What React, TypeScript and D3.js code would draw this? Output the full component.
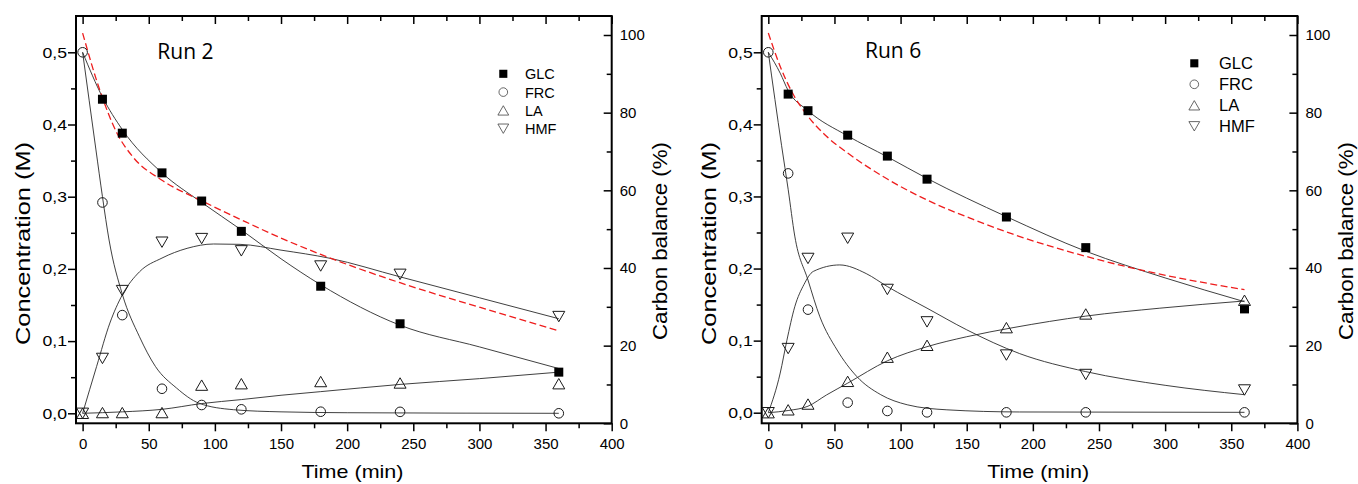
import React, { useRef, useEffect, useCallback } from 'react';
import * as d3 from 'd3';

// sampling times (min)
const sampleTimes = [0, 15, 30, 60, 90, 120, 180, 240, 360];

// Run 2 measured concentrations (M)
const run2GLC = [null, 0.435, 0.388, 0.333, 0.294, 0.252, 0.176, 0.124, 0.057];
const run2FRC = [0.5, 0.292, 0.136, 0.034, 0.0115, 0.0055, 0.0022, 0.002, 0.0];
const run2LA = [0, 0.001, 0.001, 0.001, 0.039, 0.041, 0.044, 0.042, 0.041];
const run2HMF = [0, 0.076, 0.17, 0.237, 0.242, 0.225, 0.204, 0.1925, 0.134];

// Run 6 measured concentrations (M)
const run6GLC = [null, 0.442, 0.419, 0.385, 0.356, 0.324, 0.2715, 0.229, 0.144];
const run6FRC = [0.5, 0.332, 0.143, 0.014, 0.0024, 0.0005, 0.0005, 0.0005, 0.0005];
const run6LA = [0, 0.004, 0.012, 0.0435, 0.077, 0.0935, 0.118, 0.137, 0.156];
const run6HMF = [0, 0.089, 0.214, 0.242, 0.171, 0.126, 0.08, 0.053, 0.0315];

// model curves, [time, conc]
const run2FitGLC = [[0, 0.5], [15, 0.438], [30, 0.393], [60, 0.333], [90, 0.292], [120, 0.254], [150, 0.214], [180, 0.178], [240, 0.122], [300, 0.092], [360, 0.062]];
const run2FitFRC = [[0, 0.5], [10, 0.366], [15, 0.3], [20, 0.24], [30, 0.165], [43, 0.106], [55, 0.065], [71, 0.035], [88, 0.014], [114, 0.005], [150, 0.002], [200, 0.0008], [360, 0]];
const run2FitLA = [[0, 0], [30, 0.002], [60, 0.0055], [90, 0.0135], [120, 0.019], [150, 0.025], [180, 0.03], [240, 0.04], [300, 0.048], [360, 0.057]];
const run2FitHMF = [[0, 0], [10.6, 0.065], [20.6, 0.125], [30, 0.164], [43, 0.196], [60, 0.215], [79, 0.2285], [99, 0.2345], [119, 0.234], [150, 0.226], [187, 0.2147], [240, 0.189], [300, 0.16], [360, 0.131]];

const run6FitGLC = [[0, 0.5], [9, 0.471], [15, 0.447], [30, 0.419], [60, 0.384], [90, 0.355], [120, 0.325], [180, 0.272], [240, 0.224], [300, 0.187], [360, 0.154]];
const run6FitFRC = [[0, 0.5], [10, 0.371], [15, 0.31], [20, 0.245], [30, 0.184], [39, 0.133], [52, 0.087], [67, 0.05], [85, 0.025], [105, 0.011], [135, 0.004], [190, 0.001], [360, 0.0005]];
const run6FitLA = [[0, 0], [15, 0.003], [30, 0.009], [44, 0.0246], [60, 0.041], [90, 0.072], [120, 0.0916], [150, 0.1054], [185, 0.118], [240, 0.134], [296, 0.145], [360, 0.155]];
const run6FitHMF = [[0, 0], [9, 0.055], [14, 0.1], [20, 0.147], [27, 0.178], [34, 0.196], [54, 0.205], [74, 0.193], [90, 0.175], [120, 0.145], [150, 0.115], [190, 0.082], [240, 0.057], [300, 0.038], [360, 0.025]];

// carbon balance (%), [time, %]
const run2Balance = [[0, 100.5], [13, 85.8], [26, 74.7], [38, 68.6], [60, 62.6], [90, 57.3], [120, 52.4], [150, 47.7], [180, 43.5], [240, 36.2], [300, 29.9], [360, 23.8]];
const run6Balance = [[0, 100.5], [9, 91.9], [19, 84.6], [29, 79.5], [44, 73.9], [60, 69.6], [90, 62.9], [120, 57.5], [155, 52.5], [185, 48.7], [240, 43], [284, 39.3], [360, 34.4]];

// axes
const timeTicks = [0, 50, 100, 150, 200, 250, 300, 350, 400];
const timeMinorTicks = [25, 75, 125, 175, 225, 275, 325, 375];
const concTicks = [0, 0.1, 0.2, 0.3, 0.4, 0.5];
const concMinorTicks = [0.05, 0.15, 0.25, 0.35, 0.45];
const balanceTicks = [0, 20, 40, 60, 80, 100];
const balanceMinorTicks = [10, 30, 50, 70, 90];

const species = ['GLC', 'FRC', 'LA', 'HMF'];

const FONT = '"Liberation Sans", Arial, sans-serif';
const FRAME_TOP = 16;
const FRAME_BOTTOM = 423.3;
const FRAME_WIDTH = 535.7;

const panels = [
  {
    title: 'Run 2', left: 76, titleX: 81.3, titleY: 59.3, zeroY: 413.3,
    points: { GLC: run2GLC, FRC: run2FRC, LA: run2LA, HMF: run2HMF },
    fits: [run2FitGLC, run2FitFRC, run2FitLA, run2FitHMF],
    balance: run2Balance,
    legend: { markerX: 427.3, textX: 449, baseY: 79.3, step: 18.3, font: 14.5, lift: 5.5 },
  },
  {
    title: 'Run 6', left: 761.7, titleX: 103.3, titleY: 58.3, zeroY: 412.7,
    points: { GLC: run6GLC, FRC: run6FRC, LA: run6LA, HMF: run6HMF },
    fits: [run6FitGLC, run6FitFRC, run6FitLA, run6FitHMF],
    balance: run6Balance,
    legend: { markerX: 432.6, textX: 457.3, baseY: 69.3, step: 21, font: 16.5, lift: 6 },
  },
];

const markerPath = (name) => {
  if (name === 'GLC') return d3.symbol(d3.symbolSquare, 81)();
  if (name === 'FRC') return d3.symbol(d3.symbolCircle, Math.PI * 4.8 * 4.8)();
  const w = 6, h = 5.2;
  if (name === 'LA') return `M0,${-h}L${w},${h}L${-w},${h}Z`;
  return `M0,${h}L${w},${-h}L${-w},${-h}Z`;
};

const App = () => {
  const svgRef = useRef(null);

  const styleAxis = useCallback((g, size) => {
    g.select('.domain').remove();
    g.selectAll('line').attr('stroke', '#000').attr('stroke-width', 1.5);
    g.selectAll('text').attr('font-family', FONT).attr('font-size', size).attr('fill', '#000');
  }, []);

  const drawPanel = useCallback((svg, p) => {
    const right = p.left + FRAME_WIDTH;
    const x = d3.scaleLinear().domain([-5, 400]).range([p.left, right]);
    const y = d3.scaleLinear().domain([0, 0.5]).range([p.zeroY, 52.3]);
    const yBal = d3.scaleLinear().domain([0, 100]).range([FRAME_BOTTOM, 35]);
    const g = svg.append('g');

    // model curves
    const fitLine = d3.line().x(d => x(d[0])).y(d => y(d[1])).curve(d3.curveMonotoneX);
    p.fits.forEach(f => {
      g.append('path').attr('d', fitLine(f)).attr('fill', 'none')
        .attr('stroke', '#2a2a2a').attr('stroke-width', 0.9);
    });

    // carbon balance
    const balLine = d3.line().x(d => x(d[0])).y(d => yBal(d[1])).curve(d3.curveMonotoneX);
    g.append('path').attr('d', balLine(p.balance)).attr('fill', 'none')
      .attr('stroke', '#ee1d1d').attr('stroke-width', 1.3).attr('stroke-dasharray', '7,3.5');

    // measured points
    species.forEach(s => {
      const pts = sampleTimes.map((t, i) => [t, p.points[s][i]]).filter(d => d[1] !== null);
      g.selectAll(`.pt-${s}`).data(pts).enter().append('path')
        .attr('transform', d => `translate(${x(d[0])},${y(d[1])})`)
        .attr('d', markerPath(s))
        .attr('fill', s === 'GLC' ? '#000' : 'none')
        .attr('stroke', '#1a1a1a').attr('stroke-width', s === 'GLC' ? 0 : 1);
    });

    // frame
    g.append('rect').attr('x', p.left).attr('y', FRAME_TOP)
      .attr('width', FRAME_WIDTH).attr('height', FRAME_BOTTOM - FRAME_TOP)
      .attr('fill', 'none').attr('stroke', '#000').attr('stroke-width', 2);

    // bottom axis
    g.append('g').attr('transform', `translate(0,${FRAME_BOTTOM})`)
      .call(d3.axisBottom(x).tickValues(timeTicks).tickSize(8).tickPadding(7))
      .call(a => styleAxis(a, 15));
    g.append('g').attr('transform', `translate(0,${FRAME_BOTTOM})`)
      .call(d3.axisBottom(x).tickValues(timeMinorTicks).tickSize(5).tickFormat(() => ''))
      .call(a => styleAxis(a, 15));
    // top axis (ticks inward)
    g.append('g').attr('transform', `translate(0,${FRAME_TOP})`)
      .call(d3.axisBottom(x).tickValues(timeTicks).tickSize(8).tickFormat(() => ''))
      .call(a => styleAxis(a, 15));
    g.append('g').attr('transform', `translate(0,${FRAME_TOP})`)
      .call(d3.axisBottom(x).tickValues(timeMinorTicks).tickSize(5).tickFormat(() => ''))
      .call(a => styleAxis(a, 15));
    // left axis
    g.append('g').attr('transform', `translate(${p.left},0)`)
      .call(d3.axisLeft(y).tickValues(concTicks).tickSize(8).tickPadding(1)
        .tickFormat(d => d3.format('.1f')(d).replace('.', ',')))
      .call(a => styleAxis(a, 15))
      .call(a => a.selectAll('text').attr('textLength', 24.5).attr('lengthAdjust', 'spacingAndGlyphs'));
    g.append('g').attr('transform', `translate(${p.left},0)`)
      .call(d3.axisLeft(y).tickValues(concMinorTicks).tickSize(5).tickFormat(() => ''))
      .call(a => styleAxis(a, 15));
    // right axis (ticks inward)
    g.append('g').attr('transform', `translate(${right},0)`)
      .call(d3.axisRight(yBal).tickValues(balanceTicks).tickSize(-8).tickPadding(8))
      .call(a => styleAxis(a, 15));
    g.append('g').attr('transform', `translate(${right},0)`)
      .call(d3.axisRight(yBal).tickValues(balanceMinorTicks).tickSize(-5).tickFormat(() => ''))
      .call(a => styleAxis(a, 15));

    // axis titles
    g.append('text').attr('x', p.left + 276.5).attr('y', 477.5)
      .attr('text-anchor', 'middle').attr('font-family', FONT).attr('font-size', 18.5)
      .attr('textLength', 102).attr('lengthAdjust', 'spacingAndGlyphs')
      .text('Time (min)');
    g.append('text').attr('transform', `translate(${p.left - 53},243.5) rotate(-90)`)
      .attr('dy', '0.35em').attr('text-anchor', 'middle').attr('font-family', FONT).attr('font-size', 20)
      .attr('textLength', 203).attr('lengthAdjust', 'spacingAndGlyphs')
      .text('Concentration (M)');
    g.append('text').attr('transform', `translate(${right + 48.5},241) rotate(-90)`)
      .attr('dy', '0.35em').attr('text-anchor', 'middle').attr('font-family', FONT).attr('font-size', 19.5)
      .attr('textLength', 198).attr('lengthAdjust', 'spacingAndGlyphs')
      .text('Carbon balance (%)');

    // run label
    g.append('text').attr('x', p.left + p.titleX).attr('y', p.titleY)
      .attr('font-family', '"Open Sans", sans-serif').attr('font-size', 21)
      .text(p.title);

    // legend
    const lg = p.legend;
    species.forEach((s, i) => {
      const by = lg.baseY + i * lg.step;
      g.append('path').attr('transform', `translate(${p.left + lg.markerX},${by - lg.lift}) scale(0.9)`)
        .attr('d', markerPath(s))
        .attr('fill', s === 'GLC' ? '#000' : 'none')
        .attr('stroke', '#444').attr('stroke-width', s === 'GLC' ? 0 : 0.9);
      g.append('text').attr('x', p.left + lg.textX).attr('y', by)
        .attr('font-family', FONT).attr('font-size', lg.font).text(s);
    });
  }, [styleAxis]);

  useEffect(() => {
    if (!svgRef.current) return;
    const svg = d3.select(svgRef.current);
    svg.selectAll('*').remove();
    panels.forEach(p => drawPanel(svg, p));
  }, [drawPanel]);

  return (
    <svg
      ref={svgRef}
      width={1358}
      height={484}
      style={{ position: 'absolute', left: 0, top: 0, background: '#fff' }}
    />
  );
};

export default App;
